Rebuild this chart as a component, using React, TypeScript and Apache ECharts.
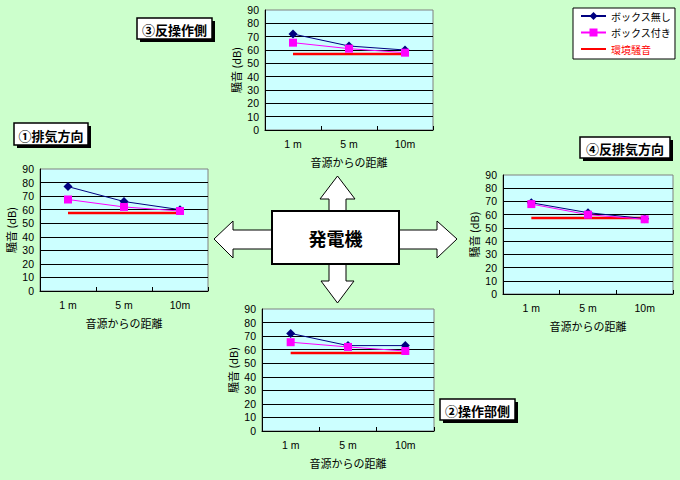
import React, { useEffect, useRef } from 'react';
import * as echarts from 'echarts';

const categories = ['1 m', '5 m', '10m'];
const seriesNames = ['ボックス無し', 'ボックス付き', '環境騒音'];
const panelTitles = ['①排気方向', '②操作部側', '③反操作側', '④反排気方向'];
const centerLabel = '発電機';
const yAxisTitle = '騒音 (dB)';
const xAxisTitle = '音源からの距離';

// ① 排気方向
const exhaustNoBox = [77, 66, 60];
const exhaustWithBox = [67.5, 62, 59];
const exhaustAmbient = [57.5, 57.5, 57.5];
// ② 操作部側
const operNoBox = [72, 63, 63];
const operWithBox = [65.5, 62, 59];
const operAmbient = [57.5, 57.5, 57.5];
// ③ 反操作側
const revOperNoBox = [72, 63, 60];
const revOperWithBox = [65.5, 61, 58];
const revOperAmbient = [57, 57, 57];
// ④ 反排気方向
const revExhaustNoBox = [69, 61.5, 57];
const revExhaustWithBox = [68, 60, 56.5];
const revExhaustAmbient = [57.5, 57.5, 57.5];

const panels = [
  { noBox: exhaustNoBox, withBox: exhaustWithBox, ambient: exhaustAmbient },
  { noBox: operNoBox, withBox: operWithBox, ambient: operAmbient },
  { noBox: revOperNoBox, withBox: revOperWithBox, ambient: revOperAmbient },
  { noBox: revExhaustNoBox, withBox: revExhaustWithBox, ambient: revExhaustAmbient },
];

const FONT = '"Noto Sans CJK JP", "Noto Sans", sans-serif';
const NUM_FONT = '"Liberation Sans", Arial, sans-serif';

const gridLayouts = [
  { left: 40, top: 169, width: 168, height: 122 },
  { left: 262, top: 309, width: 172, height: 122 },
  { left: 265, top: 10, width: 168, height: 120 },
  { left: 503, top: 175, width: 170, height: 119 },
];

const titleBoxes = [
  { x: 14, y: 123, w: 74, h: 22 },
  { x: 440, y: 399, w: 75, h: 21 },
  { x: 137, y: 18, w: 75, h: 21 },
  { x: 580, y: 137, w: 90, h: 21 },
];

function titleBox(b: { x: number; y: number; w: number; h: number }, text: string) {
  return {
    type: 'group',
    children: [
      { type: 'rect', shape: { x: b.x + 3, y: b.y + 3, width: b.w, height: b.h }, style: { fill: '#000' } },
      { type: 'rect', shape: { x: b.x, y: b.y, width: b.w, height: b.h }, style: { fill: '#fff', stroke: '#000', lineWidth: 1.5 } },
      {
        type: 'text',
        x: b.x + b.w / 2,
        y: b.y + b.h / 2 + 1,
        style: { text, fill: '#000', font: `bold 13px ${FONT}`, align: 'center', verticalAlign: 'middle' },
      },
    ],
  };
}

const arrowStyle = { fill: '#fff', stroke: '#000', lineWidth: 1 };

export default function App() {
  const ref = useRef<HTMLDivElement>(null);
  useEffect(() => {
    if (!ref.current) return;
    const chart = echarts.init(ref.current, undefined, { renderer: 'svg' });
    const grid = gridLayouts.map((g) => ({
      ...g,
      show: true,
      backgroundColor: '#ccffff',
      borderColor: '#808080',
      borderWidth: 1,
    }));
    const xAxis = gridLayouts.map((_, i) => ({
      gridIndex: i,
      type: 'category',
      data: categories,
      boundaryGap: true,
      axisLine: { show: true, lineStyle: { color: '#000', width: 1 } },
      axisTick: { show: true, inside: true, length: 4, lineStyle: { color: '#000' } },
      axisLabel: { color: '#000', fontSize: 10.5, margin: 8, fontFamily: NUM_FONT },
      splitLine: { show: false },
      name: xAxisTitle,
      nameLocation: 'middle',
      nameGap: 26,
      nameTextStyle: { color: '#000', fontSize: 11, fontFamily: FONT },
    }));
    const yAxis = gridLayouts.map((_, i) => ({
      gridIndex: i,
      type: 'value',
      min: 0,
      max: 90,
      interval: 10,
      axisLine: { show: true, lineStyle: { color: '#000', width: 1 } },
      axisTick: { show: false },
      axisLabel: { color: '#000', fontSize: 10.5, lineHeight: 11, margin: 6, fontFamily: NUM_FONT },
      splitLine: { show: true, showMinLine: false, showMaxLine: false, lineStyle: { color: '#000', width: 1 } },
      name: yAxisTitle,
      nameLocation: 'middle',
      nameGap: 24,
      nameRotate: 90,
      nameTextStyle: { color: '#000', fontSize: 11, fontFamily: FONT },
    }));
    const series: any[] = [];
    panels.forEach((p, i) => {
      series.push({
        type: 'line', name: seriesNames[2], xAxisIndex: i, yAxisIndex: i, data: p.ambient,
        symbol: 'none', lineStyle: { color: '#ff0000', width: 2.5 }, itemStyle: { color: '#ff0000' },
      });
      series.push({
        type: 'line', name: seriesNames[0], xAxisIndex: i, yAxisIndex: i, data: p.noBox,
        symbol: 'diamond', symbolSize: 9, lineStyle: { color: '#000080', width: 1 }, itemStyle: { color: '#000080' },
      });
      series.push({
        type: 'line', name: seriesNames[1], xAxisIndex: i, yAxisIndex: i, data: p.withBox,
        symbol: 'rect', symbolSize: 8, lineStyle: { color: '#ff00ff', width: 1 }, itemStyle: { color: '#ff00ff' },
      });
    });
    const graphic: any[] = [
      { type: 'polygon', shape: { points: [[329, 212], [329, 199], [320, 199], [337.5, 176], [355, 199], [346, 199], [346, 212]] }, style: arrowStyle },
      { type: 'polygon', shape: { points: [[329, 263], [329, 281], [321, 281], [337.5, 303], [354, 281], [346, 281], [346, 263]] }, style: arrowStyle },
      { type: 'polygon', shape: { points: [[273, 230], [233, 230], [233, 221], [214, 239], [233, 258], [233, 249], [273, 249]] }, style: arrowStyle },
      { type: 'polygon', shape: { points: [[398, 230], [437, 230], [437, 221], [457, 239], [437, 258], [437, 249], [398, 249]] }, style: arrowStyle },
      { type: 'rect', shape: { x: 272, y: 211, width: 127, height: 53 }, style: { fill: '#fff', stroke: '#000', lineWidth: 2 } },
      { type: 'text', x: 335.5, y: 238, style: { text: centerLabel, fill: '#000', font: `bold 18px ${FONT}`, align: 'center', verticalAlign: 'middle' } },
      ...panelTitles.map((t, i) => titleBox(titleBoxes[i], t)),
    ];
    chart.setOption({
      animation: false,
      backgroundColor: '#ccffcc',
      textStyle: { fontFamily: FONT },
      grid,
      xAxis,
      yAxis,
      series,
      legend: {
        show: true,
        orient: 'vertical',
        left: 573,
        top: 8,
        padding: [3, 4, 5, 7],
        itemGap: 6.5,
        itemWidth: 25,
        itemHeight: 10,
        backgroundColor: '#fff',
        borderColor: '#000',
        borderWidth: 1,
        borderRadius: 0,
        selectedMode: false,
        textStyle: { color: '#000', fontSize: 10, fontFamily: FONT, lineHeight: 10 },
        data: [
          { name: seriesNames[0] },
          { name: seriesNames[1] },
          { name: seriesNames[2], textStyle: { color: '#ff0000' }, itemStyle: { opacity: 0 } },
        ],
      },
      graphic,
    });
    return () => chart.dispose();
  }, []);
  return <div ref={ref} style={{ position: 'fixed', left: 0, top: 0, width: 680, height: 480 }} />;
}
